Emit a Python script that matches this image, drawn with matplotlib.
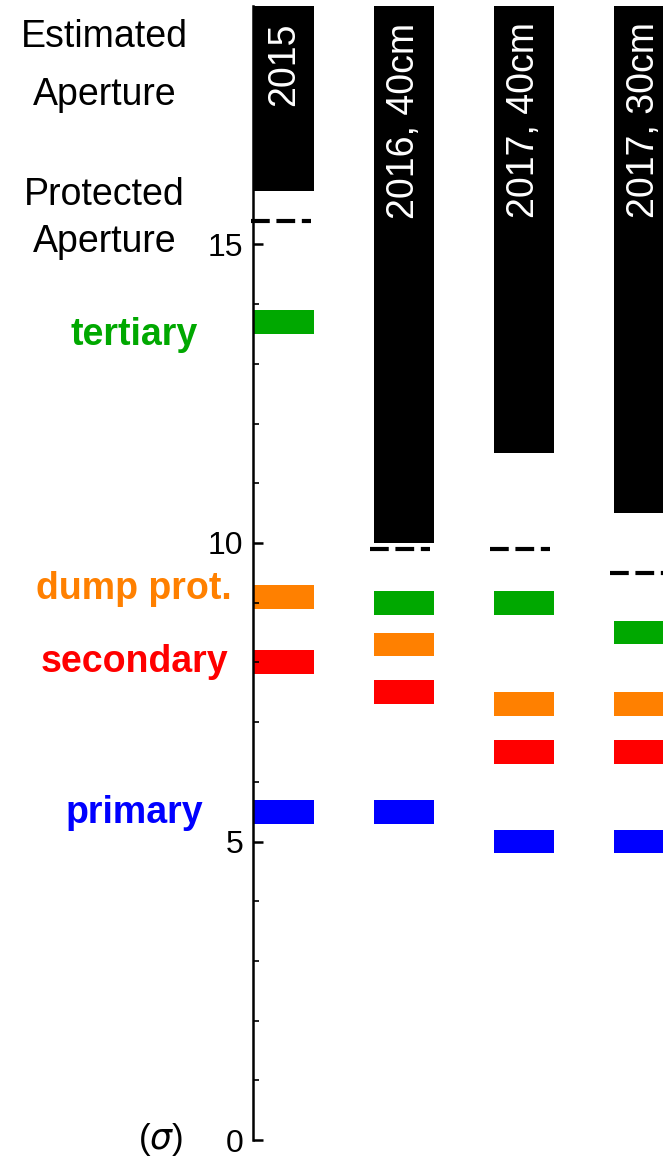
import matplotlib
matplotlib.use("Agg")
import matplotlib.pyplot as plt

plt.rcParams['font.family'] = ['Liberation Sans', 'DejaVu Sans']

# data (sigma)
runs = ['2015', '2016, 40cm', '2017, 40cm', '2017, 30cm']
estimated = [15.9, 10.0, 11.5, 10.5]
protected = [15.4, 9.9, 9.9, 9.5]
tertiary = [13.7, 9.0, 9.0, 8.5]
dump_prot = [9.1, 8.3, 7.3, 7.3]
secondary = [8.0, 7.5, 6.5, 6.5]
primary = [5.5, 5.5, 5.0, 5.0]

top = 19.0
w = 0.5
h = 0.4

fig = plt.figure(figsize=(6.63, 11.59), dpi=100)
ax = fig.add_axes([253 / 663, 19 / 1159, 410 / 663, 1140 / 1159])
ax.set_xlim(-0.01, 3.41)
ax.set_ylim(0, 1140 / 59.7)

levels = [(tertiary, '#00a800'), (dump_prot, '#ff8000'),
          (secondary, '#ff0000'), (primary, '#0000ff')]

for i, name in enumerate(runs):
    # estimated aperture: black bar from the value up to the top
    ax.bar(i, top - estimated[i], bottom=estimated[i], width=w, align='edge',
           color='black', linewidth=0)
    ax.text(i + w / 2, 18.72, name, rotation=90, color='white', fontsize=27,
            ha='center', va='top')
    # protected aperture
    ax.plot([i - 0.03, i + 0.47], [protected[i], protected[i]], color='black',
            lw=3, linestyle=(0, (4.5, 1.6)), clip_on=False)
    for vals, col in levels:
        ax.bar(i, h, bottom=vals[i] - h / 2, width=w, align='edge', color=col,
               linewidth=0)

# labels on the left
lx = -1.0
ax.text(lx, 13.32, 'tertiary', color='#00a800', fontsize=27, fontweight='bold',
        ha='center', va='baseline', clip_on=False)
ax.text(lx, 9.06, 'dump prot.', color='#ff8000', fontsize=27, fontweight='bold',
        ha='center', va='baseline', clip_on=False)
ax.text(lx, 7.84, 'secondary', color='#ff0000', fontsize=27, fontweight='bold',
        ha='center', va='baseline', clip_on=False)
ax.text(lx, 5.31, 'primary', color='#0000ff', fontsize=27, fontweight='bold',
        ha='center', va='baseline', clip_on=False)

tx = -1.25
ax.text(tx, 18.31, 'Estimated', fontsize=27, ha='center', va='baseline')
ax.text(tx, 17.34, 'Aperture', fontsize=27, ha='center', va='baseline')
ax.text(tx, 15.66, 'Protected', fontsize=27, ha='center', va='baseline')
ax.text(tx, 14.87, 'Aperture', fontsize=27, ha='center', va='baseline')
ax.text(-0.78, 0, r'($\sigma$)', fontsize=25, ha='center', va='center')

# axis
for s in ['top', 'right', 'bottom']:
    ax.spines[s].set_visible(False)
ax.spines['left'].set_linewidth(1.8)
ax.spines['left'].set_bounds(0, top)
ax.set_xticks([])
ax.set_yticks([0, 5, 10, 15])
ax.set_yticks(range(0, 19), minor=True)
ax.tick_params(axis='y', which='major', direction='in', length=7, width=1.8,
               labelsize=23, pad=7)
ax.tick_params(axis='y', which='minor', direction='in', length=4.3, width=1.2)

fig.savefig('out.png', dpi=100)
